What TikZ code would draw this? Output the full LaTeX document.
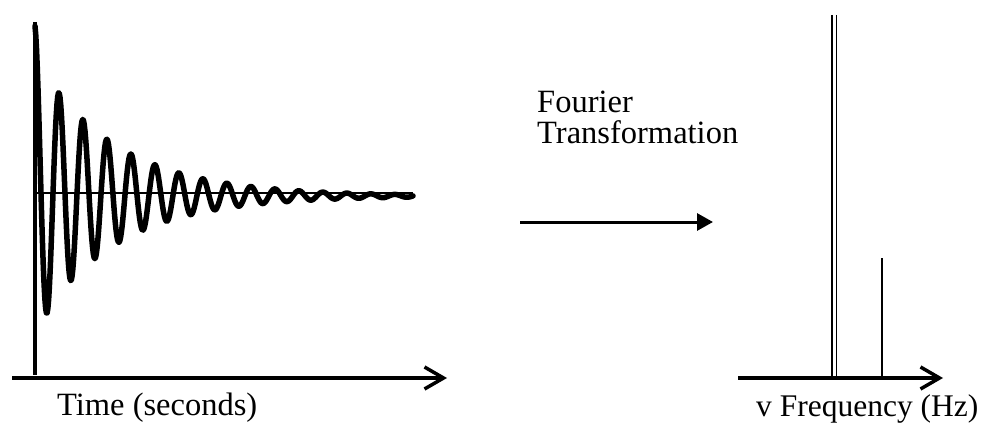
\documentclass[tikz,border=0pt]{standalone}
\usepackage{fontspec}
\setmainfont{Liberation Serif}
\usetikzlibrary{arrows.meta}
\begin{document}
\begin{tikzpicture}[x=1pt,y=-1pt,
  axis/.style={line width=4.5pt},
  axisarrow/.style={line width=4pt,-{Straight Barb[length=19pt,width=22pt,line width=3.5pt]}},
  thin/.style={line width=1.4pt},
  wave/.style={line width=5.5pt,line cap=round,line join=round},
  bigarrow/.style={line width=3pt,-{Triangle[length=16pt,width=17pt]}},
  lbl/.style={inner sep=0pt,anchor=base west,font=\fontsize{32.5}{32.5}\selectfont},
  declare function={amp(\t)=136*exp(max(-(\t-35)/80,-8))+31*exp(max(-(\t-35)/5,-8));
                    ctr(\t)=193+3*(1-exp(max(-(\t-35)/100,-8)));}]
\useasboundingbox (0,0) rectangle (982,425);
% time-domain plot
\coordinate (ytop) at (35,22);
\coordinate (ybot) at (35,375);
\coordinate (tx0) at (12,378);
\coordinate (tx1) at (447,378);
\coordinate (b0) at (35,193);
\coordinate (b1) at (413,193);
\draw[thin] (b0) -- (b1);
\draw[axis] (ytop) -- (ybot);
\draw[axisarrow] (tx0) -- (tx1);
\draw[wave] plot[domain=35:413,samples=500]
  ({\x},{ctr(\x)-amp(\x)*cos(15*(\x-35))});
\node[lbl] (tlabel) at (57,415) {Time (seconds)};
% transform arrow
\node[lbl] (ft1) at (537,113) {Fourier};
\node[lbl] (ft2) at (537,143) {Transformation};
\coordinate (a0) at (520,222);
\coordinate (a1) at (713,222);
\draw[bigarrow] (a0) -- (a1);
% frequency plot
\coordinate (fx0) at (738,378);
\coordinate (fx1) at (943,378);
\coordinate (p1t) at (832,15);
\coordinate (p1b) at (832,378);
\coordinate (p2t) at (836.5,15);
\coordinate (p2b) at (836.5,378);
\coordinate (p3t) at (882,258);
\coordinate (p3b) at (882,378);
\draw[thin] (p1t) -- (p1b);
\draw[thin] (p2t) -- (p2b);
\draw[thin] (p3t) -- (p3b);
\draw[axisarrow] (fx0) -- (fx1);
\node[lbl,font=\fontsize{31.5}{31.5}\selectfont] (flabel) at (756,416) {v Frequency (Hz)};
\end{tikzpicture}
\end{document}
